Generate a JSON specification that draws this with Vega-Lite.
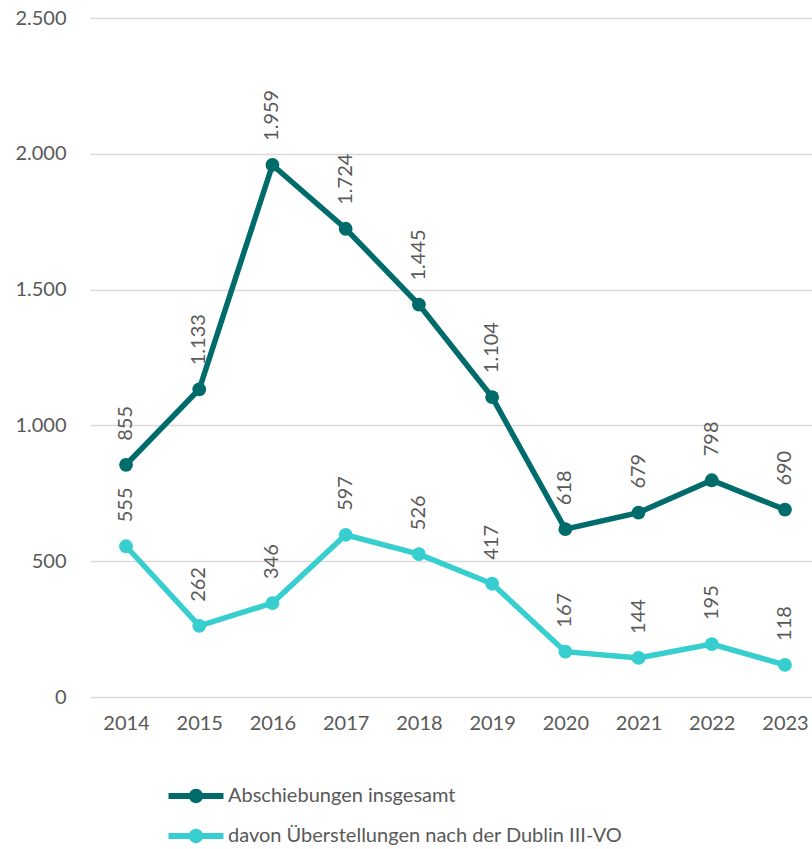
{
  "$schema": "https://vega.github.io/schema/vega-lite/v6.json",
  "width": 722,
  "height": 679,
  "autosize": {"type": "none"},
  "padding": {"left": 90, "top": 18, "right": 0, "bottom": 152},
  "config": {
    "font": "Lato",
    "locale": {"number": {"decimal": ",", "thousands": ".", "grouping": [3], "currency": ["", " €"]}},
    "view": {"stroke": null},
    "axis": {"labelFont": "Lato", "labelFontSize": 20, "labelColor": "#595959"},
    "legend": {"labelFont": "Lato", "labelFontSize": 20, "labelColor": "#595959"}
  },
  "data": {
    "values": [
      {"year": 2014, "series": "Abschiebungen insgesamt", "value": 855},
      {"year": 2015, "series": "Abschiebungen insgesamt", "value": 1133},
      {"year": 2016, "series": "Abschiebungen insgesamt", "value": 1959},
      {"year": 2017, "series": "Abschiebungen insgesamt", "value": 1724},
      {"year": 2018, "series": "Abschiebungen insgesamt", "value": 1445},
      {"year": 2019, "series": "Abschiebungen insgesamt", "value": 1104},
      {"year": 2020, "series": "Abschiebungen insgesamt", "value": 618},
      {"year": 2021, "series": "Abschiebungen insgesamt", "value": 679},
      {"year": 2022, "series": "Abschiebungen insgesamt", "value": 798},
      {"year": 2023, "series": "Abschiebungen insgesamt", "value": 690},
      {"year": 2014, "series": "davon Überstellungen nach der Dublin III-VO", "value": 555},
      {"year": 2015, "series": "davon Überstellungen nach der Dublin III-VO", "value": 262},
      {"year": 2016, "series": "davon Überstellungen nach der Dublin III-VO", "value": 346},
      {"year": 2017, "series": "davon Überstellungen nach der Dublin III-VO", "value": 597},
      {"year": 2018, "series": "davon Überstellungen nach der Dublin III-VO", "value": 526},
      {"year": 2019, "series": "davon Überstellungen nach der Dublin III-VO", "value": 417},
      {"year": 2020, "series": "davon Überstellungen nach der Dublin III-VO", "value": 167},
      {"year": 2021, "series": "davon Überstellungen nach der Dublin III-VO", "value": 144},
      {"year": 2022, "series": "davon Überstellungen nach der Dublin III-VO", "value": 195},
      {"year": 2023, "series": "davon Überstellungen nach der Dublin III-VO", "value": 118}
    ]
  },
  "encoding": {
    "x": {
      "field": "year", "type": "quantitative",
      "scale": {"domain": [2013.508, 2023.369], "nice": false, "zero": false},
      "axis": {"title": null, "values": [2014, 2015, 2016, 2017, 2018, 2019, 2020, 2021, 2022, 2023], "format": "d", "labelAngle": 0, "ticks": false, "domain": false, "labelPadding": 16, "grid": false, "labelFlush": false}
    },
    "y": {
      "field": "value", "type": "quantitative",
      "scale": {"domain": [0, 2500], "nice": false},
      "axis": {"title": null, "values": [0, 500, 1000, 1500, 2000, 2500], "format": ",d", "ticks": false, "domain": false, "labelPadding": 24,
        "gridColor": "#d9d9d9", "gridWidth": 1.5}
    },
    "color": {
      "field": "series", "type": "nominal",
      "scale": {"domain": ["Abschiebungen insgesamt", "davon Überstellungen nach der Dublin III-VO"], "range": ["#006b6b", "#36cece"]}
    }
  },
  "layer": [
    {
      "mark": {"type": "line", "strokeWidth": 5.5, "point": {"filled": true, "size": 190, "opacity": 1}},
      "encoding": {
        "color": {
          "field": "series", "type": "nominal",
          "legend": {
            "title": null, "orient": "none", "legendX": 92, "legendY": 764,
            "symbolType": "M-2,-0.22 H2 V0.22 H-2 Z M-0.52,0 A0.52,0.52 0 1,1 0.52,0 A0.52,0.52 0 1,1 -0.52,0 Z",
            "symbolSize": 756, "symbolStrokeWidth": 0, "labelOffset": 18, "rowPadding": 16, "labelLimit": 0,
            "encode": {"symbols": {"update": {"fill": {"scale": "color", "field": "value"}, "opacity": {"value": 1}}}}
          }
        }
      }
    },
    {
      "mark": {"type": "text", "angle": 270, "align": "left", "baseline": "middle", "dx": 24, "fontSize": 20, "color": "#595959"},
      "encoding": {
        "text": {"field": "value", "type": "quantitative", "format": ",d"},
        "color": {"value": "#595959"}
      }
    }
  ]
}
